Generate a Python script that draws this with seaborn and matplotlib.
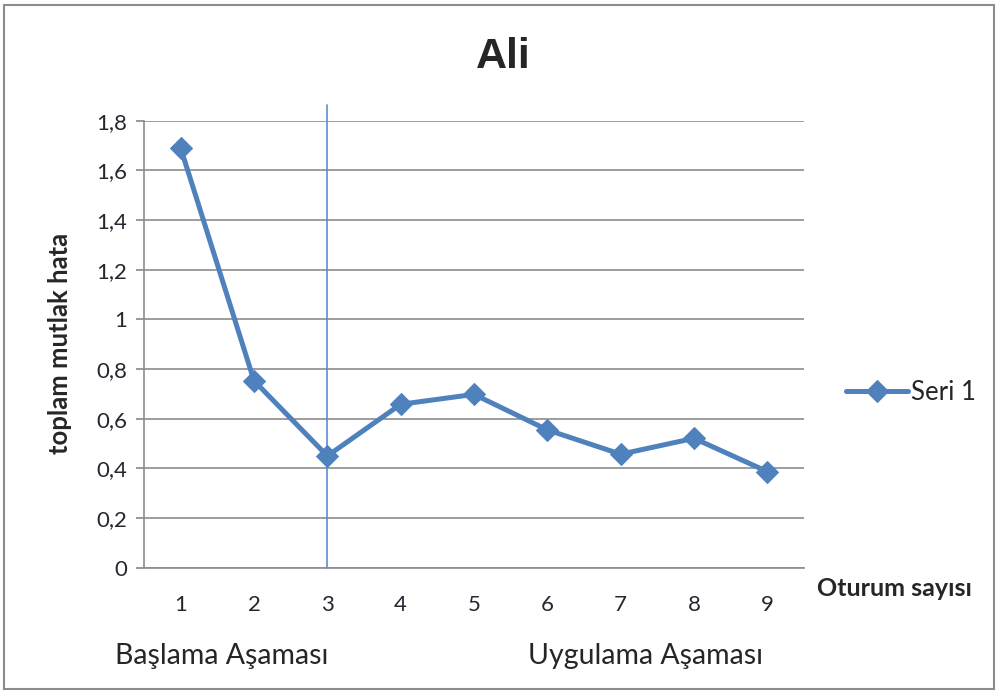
import matplotlib
matplotlib.use("Agg")
import matplotlib.pyplot as plt
import seaborn as sns
import pandas as pd
from matplotlib.patches import Rectangle

sessions = [1, 2, 3, 4, 5, 6, 7, 8, 9]
values = [1.69, 0.753, 0.45, 0.658, 0.698, 0.555, 0.457, 0.521, 0.387]
series_name = "Seri 1"
yticks = [0, 0.2, 0.4, 0.6, 0.8, 1.0, 1.2, 1.4, 1.6, 1.8]
ytick_labels = ["0", "0,2", "0,4", "0,6", "0,8", "1", "1,2", "1,4", "1,6", "1,8"]
phase_line_x = 3
title = "Ali"
ylabel = "toplam mutlak hata"
xlabel = "Oturum sayısı"
phase1 = "Başlama Aşaması"
phase2 = "Uygulama Aşaması"

sns.set_style("white")
plt.rcParams["font.family"] = ["Lato", "DejaVu Sans"]

df = pd.DataFrame({"x": sessions, "y": values, "s": series_name})

fig = plt.figure(figsize=(9.97, 6.93), dpi=100)
ax = fig.add_axes([144/997, 1-567.7/693, 660/997, (567.7-120.7)/693])

color = "#4F81BD"
sns.lineplot(data=df, x="x", y="y", hue="s", palette=[color], marker="D",
             markersize=11, linewidth=3.6, markeredgecolor=color, ax=ax)

ax.set_xlim(0.5, 9.5)
ax.set_ylim(0, 1.8)
ax.set_yticks(yticks)
ax.set_yticklabels(ytick_labels, fontsize=16, color="#262630")
ax.set_xticks(sessions)
ax.set_xticklabels([str(s) for s in sessions], fontsize=16, color="#262630")
ax.tick_params(axis="x", length=0, pad=20)
ax.tick_params(axis="y", length=6, width=1.2, color="#888888", direction="out", pad=6, left=True)
ax.grid(axis="y", color="#8c8c8c", linewidth=1.2)
ax.set_axisbelow(True)
for side in ["top", "right"]:
    ax.spines[side].set_visible(False)
ax.spines["left"].set_color("#8c8c8c")
ax.spines["left"].set_linewidth(1.2)
ax.spines["bottom"].set_color("#8c8c8c")
ax.spines["bottom"].set_linewidth(1.2)
ax.set_xlabel("")
ax.set_ylabel(ylabel, fontsize=18.5, fontweight="bold")
ax.yaxis.set_label_coords((72-144)/660, (567.7-343)/447)

# phase separator line
ax.plot([phase_line_x, phase_line_x], [0, 1.863], color="#5B8FCC", linewidth=1.2,
        clip_on=False, zorder=1)

fig.text(503/997, 1-57/693, title, ha="center", va="center", fontsize=31,
         fontweight="bold", family=["Liberation Sans", "DejaVu Sans"])
fig.text(894/997, 1-588/693, xlabel, ha="center", va="center", fontsize=18, fontweight="bold")
fig.text(222/997, 1-656/693, phase1, ha="center", va="center", fontsize=20.5)
fig.text(646/997, 1-656/693, phase2, ha="center", va="center", fontsize=20.5)

leg = ax.legend(loc="center left", bbox_to_anchor=(846/997, 1-392/693),
                bbox_transform=fig.transFigure, frameon=False, fontsize=18.5,
                handlelength=2.4, handletextpad=0.12, borderaxespad=0, borderpad=0)

fig.patches.append(Rectangle((4/997, 4/693), 990/997, 684/693, transform=fig.transFigure,
                             fill=False, edgecolor="#8c8c8c", linewidth=1.5))

fig.savefig("out.png", dpi=100)
